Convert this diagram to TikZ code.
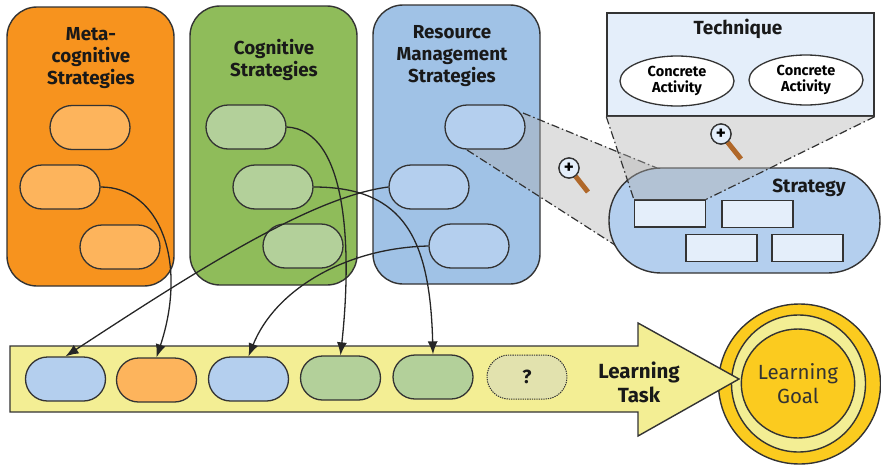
\documentclass[tikz,border=0pt]{standalone}
\usepackage{fontspec}
\setmainfont{Fira Sans}
\usetikzlibrary{arrows.meta,shapes.misc,shapes.geometric}
\definecolor{cOrange}{HTML}{F7931E}
\definecolor{cOrangeL}{HTML}{FDB45C}
\definecolor{cGreen}{HTML}{8FBC5A}
\definecolor{cGreenL}{HTML}{B3D09A}
\definecolor{cBlue}{HTML}{A0C2E6}
\definecolor{cBlueL}{HTML}{B4CFEE}
\definecolor{cYellow}{HTML}{F3EE94}
\definecolor{cGold}{HTML}{FBCB1F}
\definecolor{cPale}{HTML}{E4EEFA}
\definecolor{cInk}{HTML}{333333}
\definecolor{cBrown}{HTML}{B0682A}
\definecolor{cWedge}{HTML}{AFAFAF}
\definecolor{cQuery}{HTML}{E2E2AE}
\tikzset{
  panel/.style={draw=cInk,line width=1.4pt,rounded corners=30pt,inner sep=0pt},
  pill/.style={draw=cInk,line width=1.3pt,rounded rectangle,minimum width=80pt,minimum height=44pt,inner sep=0pt},
  title/.style={font=\bfseries\fontsize{18.8}{22}\selectfont,align=center,text=black!90},
  wedge/.style={fill=cWedge,fill opacity=.4,draw=none},
  cone/.style={draw=cInk,line width=1.2pt,dash pattern=on 8pt off 3pt on 1.5pt off 3pt},
  link/.style={draw=black!85,line width=1.3pt,-{Latex[length=13pt,width=10pt]}},
  smallbox/.style={draw=cInk,line width=1.3pt,fill=cPale,minimum width=71pt,minimum height=27pt,inner sep=0pt},
  activity/.style={draw=cInk,line width=1.3pt,fill=white,ellipse,minimum width=114pt,minimum height=50pt,inner sep=0pt,font=\bfseries\fontsize{14.5}{16}\selectfont,align=center},
  lens/.style={circle,draw=cInk,line width=1.3pt,fill=cPale,minimum size=20pt,inner sep=0pt,font=\bfseries\fontsize{19}{19}\selectfont},
  handle/.style={line width=5pt,draw=cBrown},
}
\begin{document}
\begin{tikzpicture}[x=1pt,y=-1pt]
\useasboundingbox (0,0) rectangle (881,466);
% panels
\node[panel,fill=cOrange,minimum width=167pt,minimum height=279pt] (meta) at (90.5,146.5) {};
\node[panel,fill=cGreen,minimum width=167pt,minimum height=279pt] (cog) at (273.5,145.5) {};
\node[panel,fill=cBlue,minimum width=167pt,minimum height=279pt] (res) at (456.5,144.5) {};
\node[title] (metaT) at (91,58) {Meta-\\cognitive\\Strategies};
\node[title] (cogT) at (274,59.5) {Cognitive\\Strategies};
\node[title] (resT) at (452,56) {Resource\\Management\\Strategies};
% first zoom wedge
\coordinate (w1a) at (523,113);
\coordinate (w1b) at (657,168);
\coordinate (w1c) at (615,245);
\coordinate (w1d) at (467,150);
\fill[wedge] (w1a) -- (w1b) -- (w1c) -- (w1d) -- cycle;
\draw[cone] (w1a) -- (w1b);
\draw[cone] (w1d) -- (w1c);
% pills in panels
\node[pill,fill=cOrangeL] (m1) at (90,127.5) {};
\node[pill,fill=cOrangeL] (m2) at (60,187) {};
\node[pill,fill=cOrangeL] (m3) at (120,247) {};
\node[pill,fill=cGreenL] (c1) at (246,127) {};
\node[pill,fill=cGreenL] (c2) at (273,187) {};
\node[pill,fill=cGreenL] (c3) at (303,246) {};
\node[pill,fill=cBlueL] (r1) at (485,127) {};
\node[pill,fill=cBlueL] (r2) at (429,187) {};
\node[pill,fill=cBlueL] (r3) at (469,246) {};
% strategy
\node[draw=cInk,line width=1.4pt,fill=cBlueL,rounded corners=52pt,minimum width=271pt,minimum height=105pt,inner sep=0pt] (strategy) at (744.5,220.5) {};
\node[font=\bfseries\fontsize{19}{20}\selectfont,text=black!90] (strategyT) at (809,188) {Strategy};
% second zoom wedge
\node[draw=cInk,line width=1.4pt,fill=cPale,minimum width=267pt,minimum height=103pt,inner sep=0pt] (tech) at (740.5,64.5) {};
\node[smallbox] (s1) at (670,213.5) {};
\node[smallbox] (s2) at (757.5,214) {};
\node[smallbox] (s3) at (721.5,248) {};
\node[smallbox] (s4) at (807.5,248) {};
\fill[wedge] (tech.south west) -- (tech.south east) -- (s1.north east) -- (s1.north west) -- cycle;
\draw[cone] (tech.south west) -- (s1.north west);
\draw[cone] (tech.south east) -- (s1.north east);
\node[font=\bfseries\fontsize{19}{20}\selectfont,text=black!90] (techT) at (738,28.5) {Technique};
\node[activity] (a1) at (677,81) {Concrete\\Activity};
\node[activity] (a2) at (806,80) {Concrete\\Activity};
% magnifiers
\node[lens] (lens1) at (569,168) {};
\coordinate (h1) at (588,192);
\draw[handle] (lens1) -- (h1);
\node[lens] at (lens1) {+};
\node[lens] (lens2) at (721,134) {};
\coordinate (h2) at (741,159);
\draw[handle] (lens2) -- (h2);
\node[lens] at (lens2) {+};
% goal
\node[draw=cInk,line width=1.4pt,fill=cGold,ellipse,minimum width=162pt,minimum height=160pt,inner sep=0pt] (goalO) at (799.5,384) {};
\node[draw=cInk,line width=1.4pt,fill=cYellow,ellipse,minimum width=134pt,minimum height=137pt,inner sep=0pt] (goalM) at (798.5,383.5) {};
\node[draw=cInk,line width=1.4pt,fill=cGold,ellipse,minimum width=110pt,minimum height=109pt,inner sep=0pt,font=\fontsize{20.5}{24}\selectfont,align=center,text=black!80] (goal) at (798,383.5) {Learning\\Goal};
% task arrow
\draw[draw=cInk,line width=1.4pt,fill=cYellow,line join=miter] (10,346) -- (638,346) -- (638,323) -- (739,379) -- (638,436) -- (638,412) -- (10,412) -- cycle;
\node[font=\bfseries\fontsize{20.5}{24}\selectfont,align=center,text=black!90] (taskT) at (639,382) {Learning\\Task};
\node[pill,fill=cBlueL] (t1) at (65.5,379) {};
\node[pill,fill=cOrangeL] (t2) at (156.5,380) {};
\node[pill,fill=cBlueL] (t3) at (248.5,379) {};
\node[pill,fill=cGreenL] (t4) at (340.5,378) {};
\node[pill,fill=cGreenL] (t5) at (433,377) {};
\node[pill,draw=cInk,densely dotted,line width=1pt,fill=cQuery] (t6) at (527,377) {};
\node[font=\bfseries\fontsize{19}{20}\selectfont,text=black!90] (q) at (t6) {?};
% links
\draw[link] (m2.east) .. controls (160,187) and (188,262) .. (t2.north);
\draw[link] (r2.west) .. controls (310,197) and (190,275) .. (t1.north);
\draw[link] (r3.west) .. controls (345,248) and (275,290) .. (t3.north);
\draw[link] (c1.east) .. controls (348,130) and (352,250) .. (t4.north);
\draw[link] (c2.east) .. controls (405,187) and (430,240) .. (t5.north);
\end{tikzpicture}
\end{document}
